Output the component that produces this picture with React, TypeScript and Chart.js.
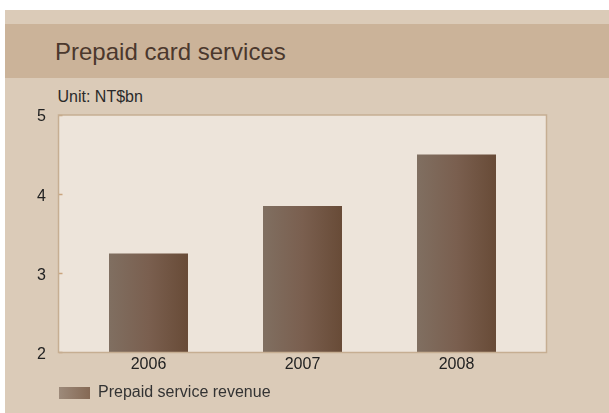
import React, { useEffect, useRef } from "react";
import { Chart, registerables } from "chart.js";

Chart.register(...registerables);

const chartTitle = "Prepaid card services";
const unitLabel = "Unit: NT$bn";
const categories = ["2006", "2007", "2008"];
const seriesName = "Prepaid service revenue";
const revenue = [3.25, 3.85, 4.5];
const yMin = 2;
const yMax = 5;
const yStep = 1;

const FONT = "'Liberation Sans', Arial, Helvetica, sans-serif";

export default function App() {
  const ref = useRef<HTMLCanvasElement | null>(null);

  useEffect(() => {
    const canvas = ref.current;
    if (!canvas) return;

    const framePlugin = {
      id: "frame",
      beforeDraw(chart: any) {
        const { ctx, chartArea: a } = chart;
        ctx.save();
        ctx.fillStyle = "#ede4da";
        ctx.fillRect(a.left, a.top, a.right - a.left, a.bottom - a.top);
        ctx.restore();
      },
      afterDatasetsDraw(chart: any) {
        const { ctx, chartArea: a } = chart;
        ctx.save();
        ctx.strokeStyle = "#c6ae92";
        ctx.lineWidth = 1.5;
        ctx.strokeRect(a.left, a.top, a.right - a.left, a.bottom - a.top);
        ctx.restore();
      },
    };

    const barFill = (c: any) => {
      const chart = c.chart;
      if (!chart.chartArea || c.type !== "data" || !chart.scales.x) return "#76604f";
      const cx = chart.scales.x.getPixelForValue(c.dataIndex);
      const half = 39.5;
      const g = chart.ctx.createLinearGradient(cx - half, 0, cx + half, 0);
      g.addColorStop(0, "#806f61");
      g.addColorStop(0.5, "#7a5f4f");
      g.addColorStop(1, "#684b37");
      return g;
    };

    const chart = new Chart(canvas, {
      type: "bar",
      data: {
        labels: categories,
        datasets: [
          {
            label: seriesName,
            data: revenue,
            backgroundColor: barFill,
            borderWidth: 0,
            barPercentage: 0.513,
            categoryPercentage: 1,
          },
        ],
      },
      options: {
        responsive: false,
        animation: false,
        layout: { padding: { left: 20, top: 115, right: 62.5, bottom: 2 } },
        plugins: {
          title: { display: false },
          tooltip: { enabled: false },
          legend: {
            display: true,
            position: "bottom",
            align: "start",
            fullSize: false,
            labels: {
              boxWidth: 31,
              boxHeight: 12,
              padding: 0.5,
              color: "#333333",
              font: { family: FONT, size: 16 },
              generateLabels: (ch: any) => {
                const g = ch.ctx.createLinearGradient(59, 0, 90, 0);
                g.addColorStop(0, "#9d8a7a");
                g.addColorStop(1, "#856954");
                return [
                  {
                    text: seriesName,
                    fillStyle: g,
                    strokeStyle: "rgba(0,0,0,0)",
                    lineWidth: 0,
                    hidden: false,
                    datasetIndex: 0,
                    fontColor: "#333333",
                  },
                ];
              },
            },
          },
        },
        scales: {
          x: {
            type: "category",
            offset: true,
            grid: { display: false, drawTicks: false },
            border: { display: false },
            ticks: {
              color: "#222222",
              font: { family: FONT, size: 16 },
              padding: 2,
              maxRotation: 0,
            },
            afterBuildTicks: (axis: any) => {
              axis._startValue = -0.5844;
              axis._valueRange = 3.1688;
            },
            afterFit: (axis: any) => {
              axis.height = 32;
            },
          },
          y: {
            type: "linear",
            min: yMin,
            max: yMax,
            border: { display: false },
            grid: {
              display: true,
              drawOnChartArea: false,
              drawTicks: true,
              tickLength: -4,
              tickColor: "#c9a47e",
              tickWidth: 1.5,
            },
            ticks: {
              stepSize: yStep,
              color: "#222222",
              font: { family: FONT, size: 16 },
              padding: 16.5,
              labelOffset: 2,
            },
            afterFit: (axis: any) => {
              axis.width = 38.5;
            },
          },
        },
      },
      plugins: [framePlugin],
    } as any);

    return () => chart.destroy();
  }, []);

  return (
    <div
      style={{
        position: "absolute",
        left: 0,
        top: 0,
        width: 609,
        height: 413,
        background: "#ffffff",
        overflow: "hidden",
      }}
    >
      <div
        style={{
          position: "absolute",
          left: 5,
          top: 10,
          width: 604,
          height: 403,
          background: "#dbcbb8",
        }}
      />
      <div
        style={{
          position: "absolute",
          left: 5,
          top: 24,
          width: 604,
          height: 54,
          background: "#cbb399",
        }}
      />
      <div
        style={{
          position: "absolute",
          left: 55,
          top: 40,
          height: 24,
          lineHeight: "24px",
          fontFamily: FONT,
          fontSize: 24,
          color: "#4b382d",
          whiteSpace: "nowrap",
        }}
      >
        {chartTitle}
      </div>
      <div
        style={{
          position: "absolute",
          left: 57.5,
          top: 89,
          height: 16,
          lineHeight: "16px",
          fontFamily: FONT,
          fontSize: 16,
          color: "#2a2a2a",
          whiteSpace: "nowrap",
        }}
      >
        {unitLabel}
      </div>
      <canvas
        ref={ref}
        width={609}
        height={413}
        style={{ position: "absolute", left: 0, top: 0, width: 609, height: 413 }}
      />
    </div>
  );
}
